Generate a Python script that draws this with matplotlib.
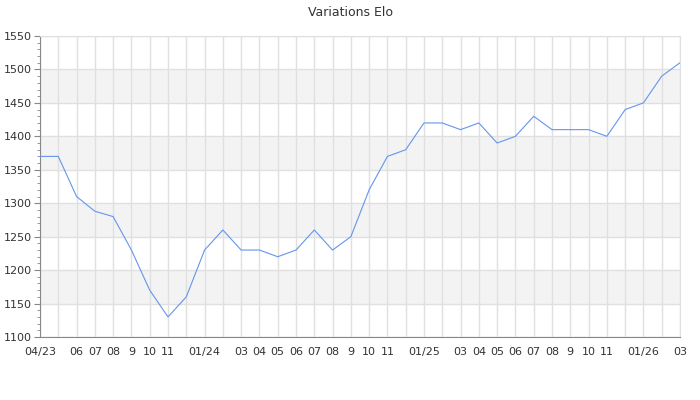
import matplotlib
matplotlib.use("Agg")
import matplotlib.pyplot as plt
from matplotlib.ticker import MultipleLocator

months = ["04/23", "05", "06", "07", "08", "9", "10", "11", "12", "01/24", "02", "03",
          "04", "05", "06", "07", "08", "9", "10", "11", "12", "01/25", "02", "03",
          "04", "05", "06", "07", "08", "9", "10", "11", "12", "01/26", "02", "03"]
shown = ["04/23", "", "06", "07", "08", "9", "10", "11", "", "01/24", "", "03",
         "04", "05", "06", "07", "08", "9", "10", "11", "", "01/25", "", "03",
         "04", "05", "06", "07", "08", "9", "10", "11", "", "01/26", "", "03"]
elo = [1370, 1370, 1310, 1288, 1280, 1230, 1170, 1130, 1160, 1230, 1260, 1230,
       1230, 1220, 1230, 1260, 1230, 1250, 1320, 1370, 1380, 1420, 1420, 1410,
       1420, 1390, 1400, 1430, 1410, 1410, 1410, 1400, 1440, 1450, 1490, 1510]

fig = plt.figure(figsize=(7, 4), dpi=100)
ax = fig.add_axes([40/700, 63/400, 640/700, 301/400])

x = list(range(len(months)))
ymin, ymax = 1100, 1550
ax.set_xlim(0, len(months) - 1)
ax.set_ylim(ymin, ymax)

# alternating bands
for lo in range(1150, 1550, 100):
    ax.axhspan(lo, lo + 50, color="#f3f3f3", zorder=0, lw=0)

ax.set_axisbelow(True)
ax.yaxis.set_major_locator(MultipleLocator(50))
ax.yaxis.set_minor_locator(MultipleLocator(10))
ax.set_xticks(x)
ax.set_xticklabels(shown)
ax.grid(True, which="major", color="#e0e0e0", lw=1)

ax.plot(x, elo, color="#6495ed", lw=0.8, zorder=3)

for s in ["top", "right"]:
    ax.spines[s].set_color("#e0e0e0")
for s in ["left", "bottom"]:
    ax.spines[s].set_color("#888888")

ax.tick_params(axis="x", length=0, pad=7, labelsize=8, labelcolor="#333333")
ax.tick_params(axis="y", which="major", length=4, pad=2, labelsize=8,
               labelcolor="#333333", color="#888888")
ax.tick_params(axis="y", which="minor", length=2, color="#888888")

fig.suptitle("Variations Elo", y=0.985, fontsize=9, color="#333333")

fig.savefig("out.png", dpi=100)
